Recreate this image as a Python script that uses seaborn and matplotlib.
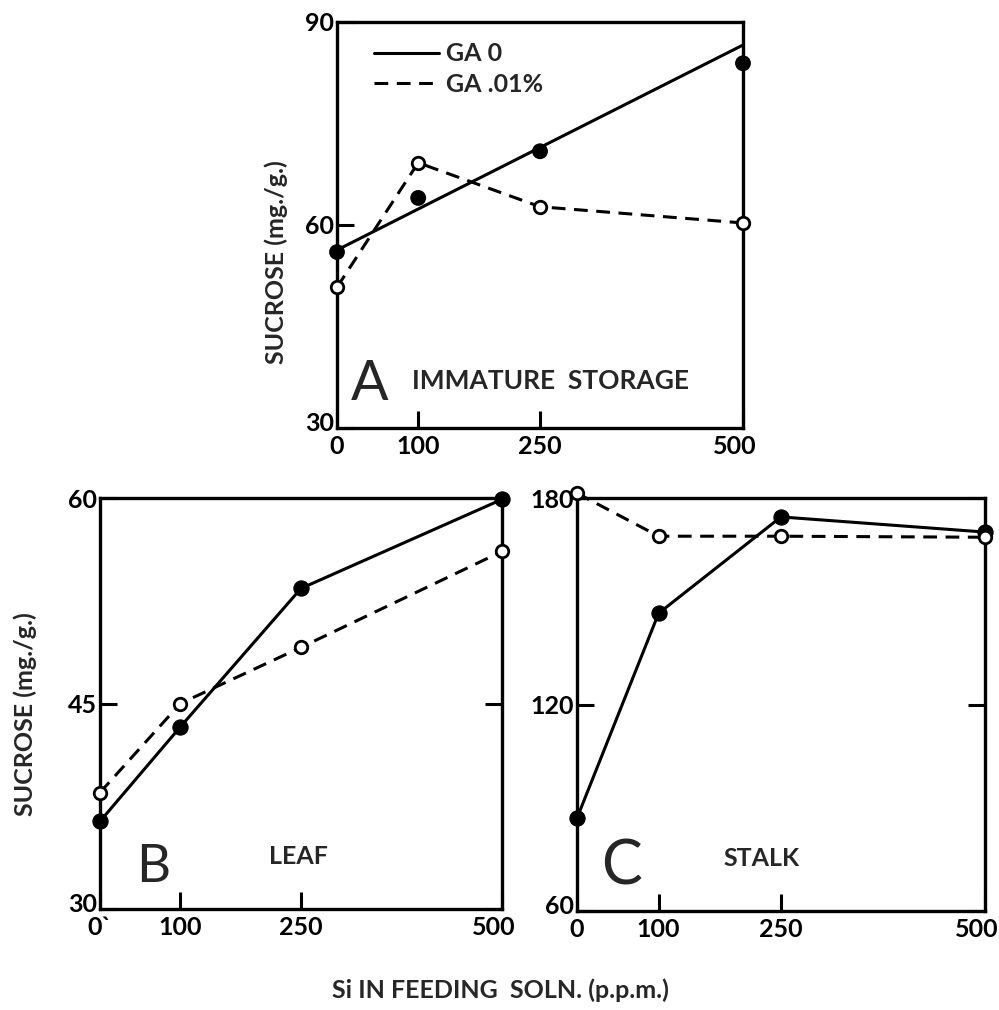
import numpy as np
import pandas as pd
import seaborn as sns
import matplotlib
matplotlib.use("Agg")
import matplotlib.pyplot as plt
import matplotlib.transforms as mtrans
from matplotlib.lines import Line2D

sns.set_theme(style="white")
plt.rcParams['font.family'] = ['Lato', 'DejaVu Sans']

# ---------------- data ----------------
si_ppm = [0, 100, 250, 500]
x_tick_labels_a = ["0", "100", "250", "500"]
x_tick_labels_b = ["0`", "100", "250", "500"]
x_tick_labels_c = ["0", "100", "250", "500"]

# Panel A: immature storage
a_ga0 = [56.0, 64.0, 70.9, 83.9]
a_ga0_fit_x = [0, 500]
a_ga0_fit_y = [56.3, 86.6]
a_ga01 = [50.8, 69.2, 62.7, 60.3]
a_yticks = [30, 60, 90]

# Panel B: leaf
b_ga0 = [36.4, 43.3, 53.4, 59.9]
b_ga01 = [38.5, 45.0, 49.1, 56.1]
b_yticks = [30, 45, 60]

# Panel C: stalk
c_ga0 = [87.0, 146.5, 174.5, 170.1]
c_ga01 = [181.4, 168.9, 168.9, 168.6]
c_yticks = [60, 120, 180]

legend_labels = ["GA 0", "GA .01%"]
panel_letters = ["A", "B", "C"]
panel_names = ["IMMATURE  STORAGE", "LEAF", "STALK"]
y_label = "SUCROSE (mg./g.)"
x_label = "Si IN FEEDING  SOLN. (p.p.m.)"

# ---------------- figure ----------------
W, H = 999, 1010
fig = plt.figure(figsize=(W / 100, H / 100), dpi=100)

def fr(l, t, r, b):
    return [l / W, 1 - b / H, (r - l) / W, (b - t) / H]

axA = fig.add_axes(fr(337, 22, 743, 428))
axB = fig.add_axes(fr(100, 498, 502, 909))
axC = fig.add_axes(fr(577, 498, 985, 911))

LW = 2.2
DASH = (0, (4.5, 2.8))
FS = 18

def solid_series(ax, y):
    sns.lineplot(x=si_ppm, y=y, ax=ax, color="black", lw=LW, marker="o",
                 markersize=11, markerfacecolor="black", markeredgecolor="black",
                 clip_on=False, zorder=3)

def dashed_series(ax, y):
    sns.lineplot(x=si_ppm, y=y, ax=ax, color="black", lw=LW, linestyle=DASH,
                 marker="o", markersize=9, markerfacecolor="white",
                 markeredgecolor="black", markeredgewidth=2.0,
                 clip_on=False, zorder=4)

# Panel A
sns.lineplot(x=a_ga0_fit_x, y=a_ga0_fit_y, ax=axA, color="black", lw=LW,
             clip_on=False, zorder=3)
sns.scatterplot(x=si_ppm, y=a_ga0, ax=axA, color="black", s=130,
                edgecolor="none", clip_on=False, zorder=5)
dashed_series(axA, a_ga01)

# Panel B
solid_series(axB, b_ga0)
dashed_series(axB, b_ga01)

# Panel C
solid_series(axC, c_ga0)
dashed_series(axC, c_ga01)

def style(ax, yticks, xlabels, right_tick):
    ax.set_xlim(0, 500)
    ax.set_ylim(yticks[0], yticks[-1])
    ax.set_xticks(si_ppm)
    ax.set_xticklabels(xlabels, fontsize=FS, fontweight="bold")
    ax.set_yticks(yticks)
    ax.set_yticklabels([str(v) for v in yticks], fontsize=FS, fontweight="bold")
    ax.tick_params(axis="both", direction="in", length=12, width=2.2,
                   color="black", labelcolor="black")
    ax.tick_params(axis="y", right=right_tick, left=True, pad=2)
    ax.tick_params(axis="x", bottom=True, pad=5)
    for s in ax.spines.values():
        s.set_visible(True)
        s.set_color("black")
        s.set_linewidth(2.4)
    ax.set_xlabel("")
    ax.set_ylabel("")
    ax.grid(False)
    ax.set_facecolor("white")
    # bottom y label slightly raised, last x label nudged left
    ylabs = ax.get_yticklabels()
    ylabs[0].set_transform(ylabs[0].get_transform() +
                           mtrans.ScaledTranslation(0, 6 / 100, fig.dpi_scale_trans))
    xlabs = ax.get_xticklabels()
    xlabs[-1].set_transform(xlabs[-1].get_transform() +
                            mtrans.ScaledTranslation(-8 / 100, 0, fig.dpi_scale_trans))

style(axA, a_yticks, x_tick_labels_a, False)
style(axB, b_yticks, x_tick_labels_b, True)
style(axC, c_yticks, x_tick_labels_c, True)

# legend in A
handles = [Line2D([], [], color="black", lw=LW),
           Line2D([], [], color="black", lw=LW, linestyle=DASH)]
leg = axA.legend(handles, legend_labels, loc="upper left",
                 bbox_to_anchor=(0.035, 1.005), frameon=False,
                 handlelength=2.6, handletextpad=0.3, labelspacing=0.3,
                 prop={"size": FS, "weight": "bold"})

# panel letters and names
axA.text(0.035, 0.07, panel_letters[0], transform=axA.transAxes, fontsize=40,
         ha="left", va="baseline")
axA.text(0.185, 0.095, panel_names[0], transform=axA.transAxes, fontsize=19,
         fontweight="bold", ha="left", va="baseline")
axB.text(0.09, 0.065, panel_letters[1], transform=axB.transAxes, fontsize=38,
         ha="left", va="baseline")
axB.text(0.42, 0.11, panel_names[1], transform=axB.transAxes, fontsize=18,
         fontweight="bold", ha="left", va="baseline")
axC.text(0.06, 0.065, panel_letters[2], transform=axC.transAxes, fontsize=44,
         ha="left", va="baseline")
axC.text(0.36, 0.11, panel_names[2], transform=axC.transAxes, fontsize=18,
         fontweight="bold", ha="left", va="baseline")

# axis labels
fig.text(276 / W, 1 - 262 / H, y_label, rotation=90, ha="center", va="center",
         fontsize=18, fontweight="bold")
fig.text(25 / W, 1 - 714 / H, y_label, rotation=90, ha="center", va="center",
         fontsize=18, fontweight="bold")
fig.text(500 / W, 1 - 990 / H, x_label, ha="center", va="center",
         fontsize=18, fontweight="bold")

fig.savefig("out.png", dpi=100, facecolor="white")
